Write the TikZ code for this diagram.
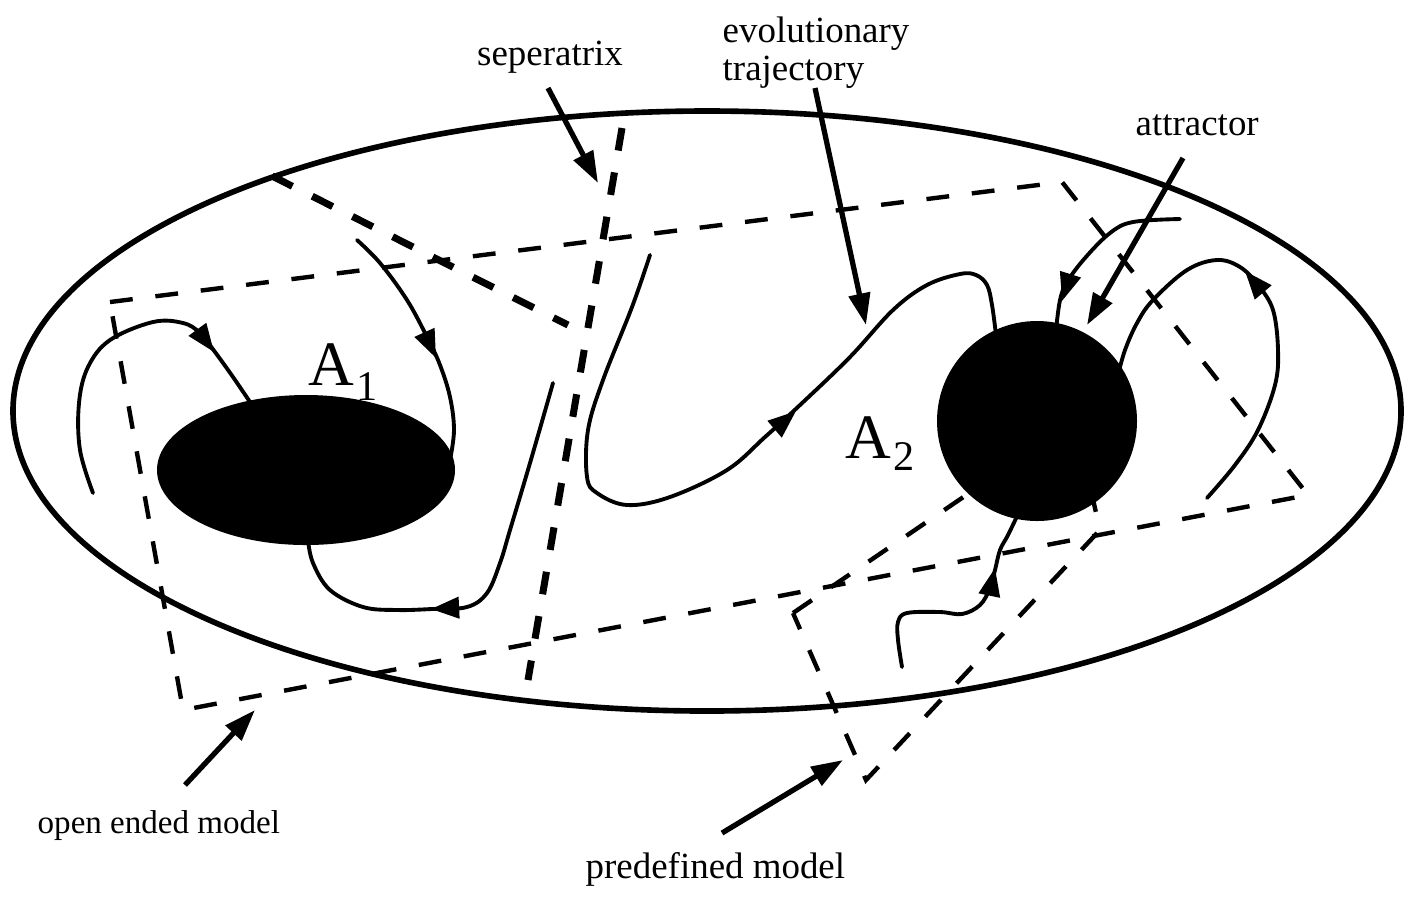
\documentclass[tikz,border=0pt]{standalone}
\usepackage{fontspec}
\setmainfont{Liberation Serif}
\usetikzlibrary{arrows.meta}
\begin{document}
\begin{tikzpicture}[x=0.01cm,y=-0.01cm,
  outer/.style={line width=1.6pt},
  traj/.style={line width=1.1pt, line cap=round},
  thickdash/.style={line width=2pt, dash pattern=on 6.5pt off 6.3pt},
  thindash/.style={line width=1.25pt, dash pattern=on 6.5pt off 6.5pt, line join=miter},
  annot/.style={line width=1.5pt, -{Triangle[length=9pt,width=6pt]}},
  tiparrow/.style={line width=1.1pt, -{Triangle[length=8pt,width=6pt]}},
  lab/.style={font=\fontsize{10.5}{10.8}\selectfont, inner sep=0pt},
  biglab/.style={font=\fontsize{18}{18}\selectfont, inner sep=0pt},
]
\useasboundingbox (0,0) rectangle (1407,896);

% dashed model boxes and separatrices
\draw[thindash] (110,302) -- (1062,182) -- (1308,495) -- (183,710) -- cycle;
\draw[thindash] (793,613) -- (1075,421) -- (1100,530) -- (866,780) -- cycle;
\draw[thickdash] (622,128) -- (528,680);
\draw[thickdash] (272,176) -- (568,325);

% outer state space
\draw[outer] (707,411) ellipse [x radius=694, y radius=300];

% trajectories
\draw[traj] plot[smooth, tension=0.6] coordinates {(93,493) (80,450) (79,403) (88,367) (110,340) (153,322) (183,323) (200,333) (215,352) (233,377) (252,405)};
\draw[tiparrow] (203,337) -- (214,352);

\draw[traj] plot[smooth, tension=0.6] coordinates {(357,240) (380,263) (407,300) (427,337) (440,365) (450,397) (454,430) (450,460)};
\draw[tiparrow] (427,338) -- (436,358);

\draw[traj] plot[smooth, tension=0.6] coordinates {(553,383) (530,463) (510,530) (500,563) (487,593) (467,607) (432,609) (397,610) (363,607) (330,590) (313,563) (308,540)};
\draw[tiparrow] (452,608) -- (431,609);

\draw[traj] plot[smooth, tension=0.6] coordinates {(650,255) (632,307) (603,380) (588,430) (587,477) (597,493) (627,505) (670,497) (727,470) (765,437) (800,405) (850,357) (893,310) (927,285) (960,274) (976,275) (987,285) (992,305) (996,335)};
\draw[tiparrow] (776,428) -- (796,411);

\draw[traj] plot[smooth, tension=0.6] coordinates {(1180,219) (1133,222) (1110,233) (1085,258) (1067,282) (1060,300) (1056,330)};
\draw[tiparrow] (1068,282) -- (1062,301);

\draw[traj] plot[smooth, tension=0.6] coordinates {(1207,498) (1235,465) (1258,430) (1275,385) (1278,350) (1273,310) (1258,285) (1240,267) (1217,260) (1187,270) (1153,300) (1137,323) (1125,350) (1118,375)};
\draw[tiparrow] (1262,291) -- (1245,271);

\draw[traj] plot[smooth, tension=0.6] coordinates {(902,667) (898,640) (898,622) (907,613) (940,612) (962,614) (980,605) (990,588) (995,570) (1000,550) (1008,535) (1020,510)};
\draw[tiparrow] (990,592) -- (995,568);

% attractors
\fill (306,470) ellipse [x radius=149, y radius=75];
\fill (1037,421) circle [radius=100];

% labels
\node[biglab, anchor=base west] (a1) at (308,385) {A\kern0.5pt\raisebox{-4.3pt}{\fontsize{12}{12}\selectfont 1}};
\node[biglab, anchor=base west] (a2) at (845,458) {A\kern0.5pt\raisebox{-3.5pt}{\fontsize{12}{12}\selectfont 2}};

\node[lab, anchor=base] (sep) at (550,65) {seperatrix};
\node[lab, anchor=north west, align=left] (evo) at (722,16) {evolutionary\\trajectory};
\node[lab, anchor=base west] (att) at (1135,135) {attractor};
\node[lab, font=\fontsize{9.4}{10}\selectfont, anchor=base west] (open) at (37,833) {open ended model};
\node[lab, anchor=base west] (pre) at (585,878) {predefined model};

% annotation arrows
\coordinate (septail) at (548,88);   \coordinate (septip) at (598,183);
\coordinate (evotail) at (815,88);   \coordinate (evotip) at (866,325);
\coordinate (atttail) at (1183,158); \coordinate (atttip) at (1087,325);
\coordinate (opentail) at (185,785); \coordinate (opentip) at (255,710);
\coordinate (pretail) at (722,833);  \coordinate (pretip) at (843,760);
\draw[annot] (septail) -- (septip);
\draw[annot] (evotail) -- (evotip);
\draw[annot] (atttail) -- (atttip);
\draw[annot] (opentail) -- (opentip);
\draw[annot] (pretail) -- (pretip);
\end{tikzpicture}
\end{document}
